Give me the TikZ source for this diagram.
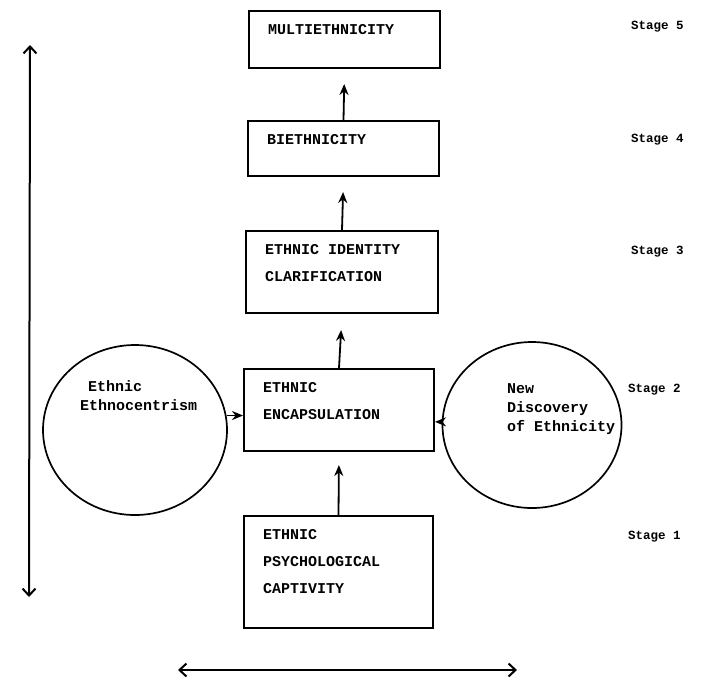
\documentclass[tikz,border=0pt]{standalone}
\usepackage{fontspec}
\setmonofont{Liberation Mono}
\usepackage{tikz}
\usetikzlibrary{arrows.meta, shapes.geometric}

\tikzset{
	stagebox/.style={draw, line width=2pt, anchor=north west, inner sep=0pt},
	boxtext/.style={anchor=north west, align=left, inner xsep=20pt, inner ysep=14pt, font=\ttfamily\bfseries\fontsize{15}{27}\selectfont},
	ring/.style={draw, ellipse, line width=1.7pt, inner sep=0pt},
	ringtext/.style={anchor=north west, align=left, inner sep=0pt, font=\ttfamily\bfseries\fontsize{15}{19}\selectfont},
	stagelabel/.style={anchor=west, inner sep=0pt, font=\ttfamily\bfseries\fontsize{12.5}{14}\selectfont},
	flow/.style={-{Stealth[length=11pt,width=9pt]}, line width=1.8pt},
	span/.style={{Straight Barb[length=7pt,width=13pt]}-{Straight Barb[length=7pt,width=13pt]}, line width=2pt}
}

\begin{document}
\begin{tikzpicture}[x=1pt,y=-1pt]
		\useasboundingbox (0,0) rectangle (709,678);
		\node[stagebox, minimum width=191pt, minimum height=57pt] (multi) at (248,10) {};
		\node[stagebox, minimum width=191pt, minimum height=55pt] (bi) at (247,120) {};
		\node[stagebox, minimum width=192pt, minimum height=82pt] (clar) at (245,230) {};
		\node[stagebox, minimum width=190pt, minimum height=82pt] (encap) at (243,368) {};
		\node[stagebox, minimum width=189pt, minimum height=112pt] (capt) at (243,515) {};
		\node[boxtext] (multitext) at (multi.north west) {MULTIETHNICITY};
		\node[boxtext] (bitext) at (bi.north west) {BIETHNICITY};
		\node[boxtext] (clartext) at (clar.north west) {ETHNIC IDENTITY\\CLARIFICATION};
		\node[boxtext] (encaptext) at (encap.north west) {ETHNIC\\ENCAPSULATION};
		\node[boxtext] (capttext) at (capt.north west) {ETHNIC\\PSYCHOLOGICAL\\CAPTIVITY};
		\node[ring, minimum width=184pt, minimum height=170pt] (ethno) at (135,430) {};
		\node[ring, minimum width=179pt, minimum height=166pt] (discovery) at (532,425) {};
		\node[ringtext] (ethnotext) at (80,380) {\hspace*{8pt}Ethnic\\Ethnocentrism};
		\node[ringtext] (discoverytext) at (507,383) {New\\Discovery\\of Ethnicity};
		\node[stagelabel] (s5) at (631,27) {Stage 5};
		\node[stagelabel] (s4) at (631,140) {Stage 4};
		\node[stagelabel] (s3) at (631,252) {Stage 3};
		\node[stagelabel] (s2) at (628,390) {Stage 2};
		\node[stagelabel] (s1) at (628,537) {Stage 1};
		\draw[flow, shorten >=15pt] (bi.north) -- (multi.south);
		\draw[flow, shorten >=15pt] (clar.north) -- (bi.south);
		\draw[flow, shorten >=16pt] (encap.north) -- (clar.south);
		\draw[flow, shorten >=13pt] (capt.north) -- (encap.south);
		\draw[flow] (ethno.9) -- (ethno.9 -| encap.west);
		\draw[flow] (discovery.178) -- (discovery.178 -| encap.east);
		\coordinate (vtop) at (30,45);
		\coordinate (vbot) at (29,597);
		\coordinate (hleft) at (178,670);
		\coordinate (hright) at (517,670);
		\draw[span] (vtop) -- (vbot);
		\draw[span] (hleft) -- (hright);
	\end{tikzpicture}
\end{document}
